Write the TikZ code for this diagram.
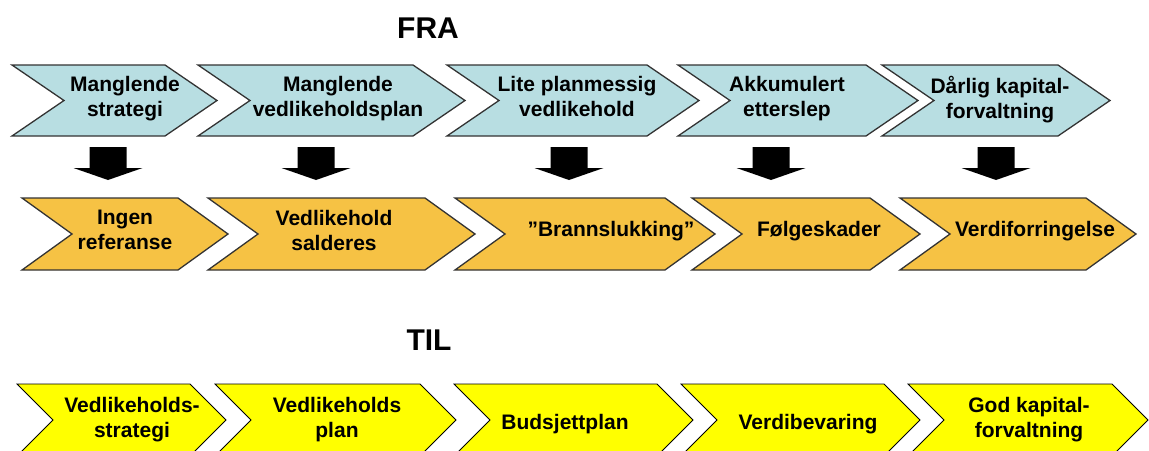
\documentclass[tikz,border=0pt]{standalone}
\usepackage{fontspec}
\setmainfont{Liberation Sans}
\begin{document}
\begin{tikzpicture}[x=1pt,y=-1pt]
\definecolor{fraBlue}{HTML}{B8DEE2}
\definecolor{fraOrange}{HTML}{F6C244}
\definecolor{tilYellow}{HTML}{FFFF00}
\tikzset{
  blueChev/.style={fill=fraBlue, draw=black!80, line width=1.3pt, line join=miter},
  orangeChev/.style={fill=fraOrange, draw=black!80, line width=1.3pt, line join=miter},
  yellowChev/.style={fill=tilYellow, draw=black, line width=0.8pt, line join=miter},
  boxText/.style={font=\bfseries\fontsize{21}{25}\selectfont, align=center, inner sep=0pt, text=black},
  heading/.style={font=\bfseries\fontsize{30}{30}\selectfont, inner sep=0pt, anchor=base},
  blockArrow/.style={fill=black}
}
% chevron: style, left x, point depth, right x, top y, bottom y
\newcommand\chevron[6]{%
  \draw[#1] (#2,#5) -- (#4,#5) -- ({#4+#3},{(#5+#6)/2}) -- (#4,#6)
    -- (#2,#6) -- ({#2+#3},{(#5+#6)/2}) -- cycle;}
% down block arrow centred on x
\newcommand\downArrow[1]{%
  \fill[blockArrow] ({#1-18.5},147) -- ({#1+18.5},147) -- ({#1+18.5},168)
    -- ({#1+34.5},168) -- (#1,180) -- ({#1-34.5},168) -- ({#1-18.5},168) -- cycle;}

\useasboundingbox (0,0) rectangle (1149,450);

% headings
\node[heading] (fra) at (428,38) {FRA};
\node[heading] (til) at (429,350) {TIL};

% current situation
\chevron{blueChev}{12}{52}{165}{65}{136}
\chevron{blueChev}{198}{52}{413}{65}{136}
\chevron{blueChev}{447}{52}{647}{65}{136}
\chevron{blueChev}{678}{52}{866}{65}{136}
\chevron{blueChev}{882}{52}{1058}{65}{136}

\node[boxText, anchor=north] (b1) at (125,76) {Manglende\\strategi};
\node[boxText, anchor=north] (b2) at (338,76) {Manglende\\vedlikeholdsplan};
\node[boxText, anchor=north] (b3) at (577,76) {Lite planmessig\\vedlikehold};
\node[boxText, anchor=north] (b4) at (787,76) {Akkumulert\\etterslep};
\node[boxText, anchor=north] (b5) at (1000,76) {Dårlig kapital-\\forvaltning};

% consequences
\downArrow{108}
\downArrow{316}
\downArrow{569}
\downArrow{771}
\downArrow{996}

\chevron{orangeChev}{22}{50}{178}{198}{270}
\chevron{orangeChev}{208}{50}{425}{198}{270}
\chevron{orangeChev}{455}{50}{665}{198}{270}
\chevron{orangeChev}{692}{50}{870}{198}{270}
\chevron{orangeChev}{900}{50}{1086}{198}{270}

\node[boxText, anchor=north] (o1) at (125,210) {Ingen\\referanse};
\node[boxText, anchor=north] (o2) at (334,210) {Vedlikehold\\salderes};
\node[boxText, anchor=base] (o3) at (611,236) {”Brannslukking”};
\node[boxText, anchor=base] (o4) at (819,236) {Følgeskader};
\node[boxText, anchor=base] (o5) at (1035,236) {Verdiforringelse};

% target situation
\chevron{yellowChev}{17}{36}{190}{384}{456}
\chevron{yellowChev}{215}{36}{420}{384}{456}
\chevron{yellowChev}{454}{36}{657}{384}{456}
\chevron{yellowChev}{681}{36}{884}{384}{456}
\chevron{yellowChev}{908}{36}{1112}{384}{456}

\node[boxText, anchor=north] (y1) at (132,397) {Vedlikeholds-\\strategi};
\node[boxText, anchor=north] (y2) at (337,397) {Vedlikeholds\\plan};
\node[boxText, anchor=base] (y3) at (565,429) {Budsjettplan};
\node[boxText, anchor=base] (y4) at (808,429) {Verdibevaring};
\node[boxText, anchor=north] (y5) at (1029,397) {God kapital-\\forvaltning};
\end{tikzpicture}
\end{document}
